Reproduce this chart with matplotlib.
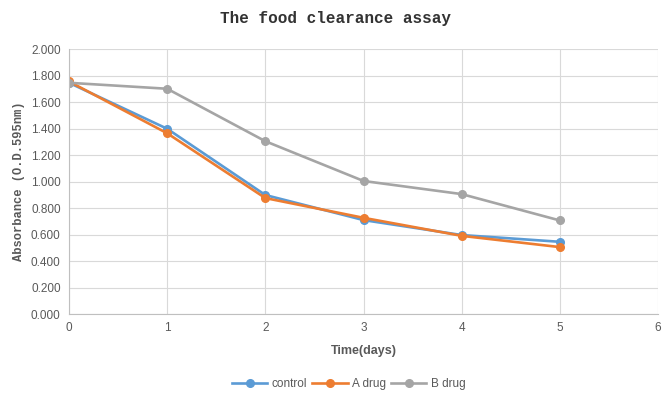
import matplotlib.pyplot as plt
import numpy as np

days = [0, 1, 2, 3, 4, 5]
control = [1.745, 1.398, 0.898, 0.709, 0.596, 0.545]
a_drug = [1.755, 1.364, 0.875, 0.726, 0.590, 0.505]
b_drug = [1.745, 1.700, 1.304, 1.004, 0.905, 0.706]

series = [
    ("control", control, "#5B9BD5"),
    ("A drug", a_drug, "#ED7D31"),
    ("B drug", b_drug, "#A5A5A5"),
]

fig = plt.figure(figsize=(6.72, 4.03), dpi=100)
ax = fig.add_axes([0.1027, 0.2208, 0.8765, 0.6576])

for name, vals, col in series:
    ax.plot(days, vals, color=col, lw=1.9, marker="o", ms=5.5, label=name)

ax.set_xlim(0, 6)
ax.set_ylim(0, 2.0)
ax.set_xticks(range(7))
ax.set_yticks(np.arange(0, 2.01, 0.2))
ax.set_yticklabels(["%.3f" % v for v in np.arange(0, 2.01, 0.2)])
ax.grid(True, color="#d9d9d9", lw=0.8)
ax.set_axisbelow(True)
for s in ["top", "right"]:
    ax.spines[s].set_visible(False)
for s in ["left", "bottom"]:
    ax.spines[s].set_color("#bfbfbf")
    ax.spines[s].set_linewidth(0.8)
ax.tick_params(length=0, colors="#595959", labelsize=8.5, pad=6)
for lab in ax.get_xticklabels() + ax.get_yticklabels():
    lab.set_family("Liberation Sans")

ax.set_xlabel("Time(days)", fontsize=9, fontweight="bold", color="#595959",
              family="Liberation Sans", labelpad=8)
ax.set_ylabel("Absorbance (O.D.595nm)", fontsize=8.7, fontweight="bold",
              color="#595959", family="Liberation Mono", labelpad=4)

fig.text(0.5, 0.953, "The food clearance assay", ha="center", va="center",
         fontsize=11.5, fontweight="bold", color="#333333",
         family="Liberation Mono")

ax.legend(loc="upper center", bbox_to_anchor=(0.475, -0.2), ncol=3,
          frameon=False, handlelength=3, columnspacing=0.4,
          handletextpad=0.4, labelcolor="#595959",
          prop={"family": "Liberation Sans", "size": 8.5})

plt.savefig("out.png", dpi=100)
plt.close()
